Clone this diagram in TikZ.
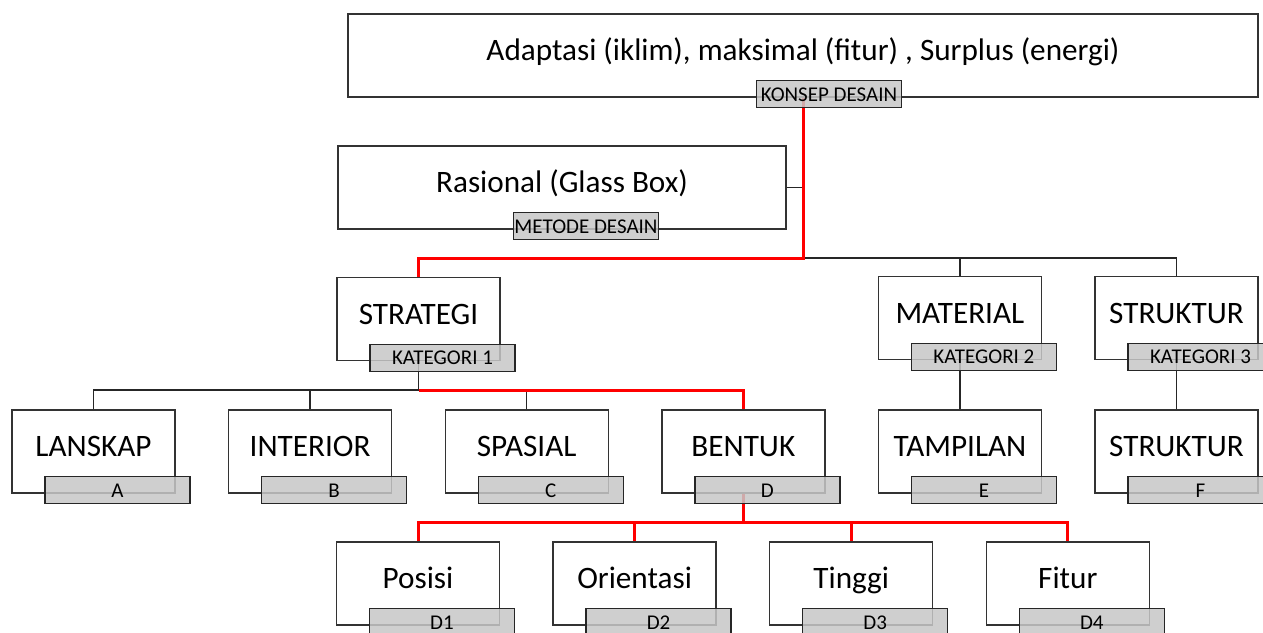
\documentclass[tikz,border=0pt]{standalone}
\usepackage{fontspec}
\setmainfont{Carlito}
\usetikzlibrary{positioning}

\tikzset{
  box/.style={draw=black!80, fill=white, line width=0.7pt, minimum width=81.5pt,
    minimum height=41.5pt, inner sep=0pt, font=\fontsize{15.6}{18}\selectfont,
    text height=10.9pt, text depth=5.9pt},
  tag/.style={draw=black!85, fill=black!22, fill opacity=0.85, text opacity=1,
    line width=0.7pt, minimum width=72.5pt, minimum height=13.5pt, inner sep=0pt,
    font=\fontsize{10.5}{12}\selectfont, text height=7.5pt, text depth=0.7pt},
  link/.style={draw=black!85, line width=0.75pt},
  hot/.style={draw=red, line width=1.5pt},
}

\begin{document}
\begin{tikzpicture}[x=1pt,y=1pt]
            \useasboundingbox (0,0) rectangle (631.5,-316);
            \node[box,minimum width=455pt] (konsep) at (401.5,-27.75){Adaptasi (iklim), maksimal (fitur) , Surplus (energi)};
            \node[box,minimum width=224pt] (metode) at (281,-93.75){Rasional (Glass Box)};
            \node[box] (strategi) at (209.25,-159.5){STRATEGI};
            \node[box] (lanskap) at (46.75,-225.75){LANSKAP};
            \node[box] (interior)[right=26.1pt of lanskap]{INTERIOR};
            \node[box] (spasial)[right=26.1pt of interior]{SPASIAL};
            \node[box] (bentuk)[right=26.1pt of spasial]{BENTUK};
            \node[box] (tampilan)[right=26.1pt of bentuk]{TAMPILAN};
            \node[box] (struktur2)[right=26.1pt of tampilan]{STRUKTUR};
            \node[box] (material)[above=24.5pt of tampilan]{MATERIAL};
            \node[box] (struktur)[above=24.5pt of struktur2]{STRUKTUR};
            \node[box] (posisi) at (209,-291.75){Posisi};
            \node[box] (orientasi)[right=26.1pt of posisi]{Orientasi};
            \node[box] (tinggi)[right=26.1pt of orientasi]{Tinggi};
            \node[box] (fitur)[right=26.1pt of tinggi]{Fitur};
            % connectors
            \coordinate (hub) at (konsep.south |- 0,-129);
            \coordinate (fork) at (strategi.south |- 0,-195);
            \coordinate (split) at (bentuk.south |- 0,-261);
            \path[link](metode.east) -- (metode.east -| hub)
                    (hub) -| (material.north)
                    (hub) -| (struktur.north)
                    (strategi.south) -- (fork)
                    (fork) -| (lanskap.north)
                    (fork) -| (interior.north)
                    (fork) -| (spasial.north)
                    (material.south) -- (tampilan.north)
                    (struktur.south) -- (struktur2.north);
            \path[hot](konsep.south) -- (hub) -| (strategi.north)
                    (fork) -| (bentuk.north)
                    (bentuk.south) -- (split) -| (posisi.north)
                    (split) -| (orientasi.north)
                    (split) -| (tinggi.north)
                    (split) -| (fitur.north);
            % tags
            \node[tag] (t-konsep) at ([xshift=13pt,yshift=1.75pt]konsep.south){KONSEP DESAIN};
            \node[tag] (t-metode) at ([xshift=12pt,yshift=1.75pt]metode.south){METODE DESAIN};
            \node[tag] (t-strategi) at ([xshift=12pt,yshift=1.75pt]strategi.south){KATEGORI 1};
            \node[tag] (t-material) at ([xshift=12pt,yshift=1.75pt]material.south){KATEGORI 2};
            \node[tag] (t-struktur) at ([xshift=12pt,yshift=1.75pt]struktur.south){KATEGORI 3};
            \node[tag] (t-lanskap) at ([xshift=12pt,yshift=1.75pt]lanskap.south){A};
            \node[tag] (t-interior) at ([xshift=12pt,yshift=1.75pt]interior.south){B};
            \node[tag] (t-spasial) at ([xshift=12pt,yshift=1.75pt]spasial.south){C};
            \node[tag] (t-bentuk) at ([xshift=12pt,yshift=1.75pt]bentuk.south){D};
            \node[tag] (t-tampilan) at ([xshift=12pt,yshift=1.75pt]tampilan.south){E};
            \node[tag] (t-struktur2) at ([xshift=12pt,yshift=1.75pt]struktur2.south){F};
            \node[tag] (t-posisi) at ([xshift=12pt,yshift=1.75pt]posisi.south){D1};
            \node[tag] (t-orientasi) at ([xshift=12pt,yshift=1.75pt]orientasi.south){D2};
            \node[tag] (t-tinggi) at ([xshift=12pt,yshift=1.75pt]tinggi.south){D3};
            \node[tag] (t-fitur) at ([xshift=12pt,yshift=1.75pt]fitur.south){D4};
        \end{tikzpicture}
\end{document}
